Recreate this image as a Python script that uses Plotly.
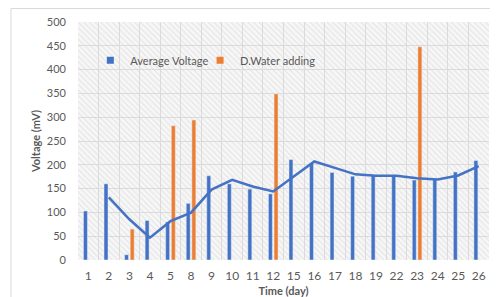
import plotly.graph_objects as go

days = ["1", "2", "3", "4", "5", "8", "9", "10", "11", "12",
        "15", "16", "17", "18", "19", "22", "23", "24", "25", "26"]
avg_voltage = [103, 160, 11, 83, 80, 119, 177, 160, 149, 139,
               211, 203, 184, 176, 178, 176, 168, 170, 185, 209]
water_adding = [None, None, 65, None, 282, 294, None, None, None, 349,
                None, None, None, None, None, None, 448, None, None, None]
y_ticks = [0, 50, 100, 150, 200, 250, 300, 350, 400, 450, 500]
series_names = ["Average Voltage", "D.Water adding"]

# 2-period moving average trendline (as in the original chart)
mov_avg = [None] + [(avg_voltage[i - 1] + avg_voltage[i]) / 2 for i in range(1, len(avg_voltage))]

BLUE = "#4472C4"
ORANGE = "#ED7D31"
GRAY = "#595959"
FONT = "Lato"

fig = go.Figure()

# hatched plot-area background on the base (hidden) axes
fig.add_trace(go.Scatter(
    x=[0, 1, 1, 0, 0], y=[0, 0, 1, 1, 0], xaxis="x", yaxis="y",
    mode="none", fill="toself", fillcolor="rgba(255,255,255,0)",
    fillpattern=dict(shape="\\", fgcolor="#d4d4d4", bgcolor="rgba(0,0,0,0)", size=4, solidity=0.3),
    hoverinfo="skip", showlegend=False))

fig.add_trace(go.Bar(x=days, y=avg_voltage, name=series_names[0], marker_color=BLUE,
                     xaxis="x2", yaxis="y2", showlegend=False, legendgroup="a"))
fig.add_trace(go.Bar(x=days, y=water_adding, name=series_names[1], marker_color=ORANGE,
                     xaxis="x2", yaxis="y2", showlegend=False, legendgroup="b"))
fig.add_trace(go.Scatter(x=days, y=mov_avg, mode="lines", line=dict(color=BLUE, width=2.5),
                         showlegend=False, hoverinfo="skip", xaxis="x2", yaxis="y2"))

# small square legend keys
for nm, col, grp, lg in [(series_names[0], BLUE, "a", "legend"),
                         (series_names[1], ORANGE, "b", "legend2")]:
    fig.add_trace(go.Scatter(x=[None], y=[None], mode="markers", name=nm, legendgroup=grp,
                             legend=lg, marker=dict(symbol="square", size=7, color=col),
                             xaxis="x2", yaxis="y2"))

legend_style = dict(orientation="h", y=0.839, xanchor="left", yanchor="middle",
                    bgcolor="rgba(0,0,0,0)", font=dict(size=11, color=GRAY), itemwidth=30)

fig.update_layout(
    width=490, height=289,
    margin=dict(l=70, r=9, t=14, b=37, autoexpand=False),
    paper_bgcolor="white", plot_bgcolor="#f7f7f7",
    barmode="group", bargap=0.45, bargroupgap=0.3,
    font=dict(family=FONT, color=GRAY, size=11),
    legend=dict(x=0.03, **legend_style),
    legend2=dict(x=0.297, **legend_style),
    xaxis=dict(range=[0, 1], visible=False, fixedrange=True),
    yaxis=dict(range=[0, 1], visible=False, fixedrange=True),
    xaxis2=dict(type="category", overlaying="x", tickson="boundaries", showgrid=True,
                gridcolor="#dcdcdc", gridwidth=1, ticks="", tickangle=0, automargin=False,
                tickfont=dict(size=12, color=GRAY),
                ticklabelstandoff=7, zeroline=False, showline=False,
                title=dict(text="<b>Time (day)</b>", font=dict(size=11, color=GRAY), standoff=8)),
    yaxis2=dict(range=[0, 500], overlaying="y", side="left", tickvals=y_ticks, showgrid=True,
                gridcolor="#dcdcdc", gridwidth=1, ticks="", tickfont=dict(size=11, color=GRAY),
                ticklabelstandoff=11, zeroline=False, showline=False, automargin=False,
                title=dict(text="<b>Voltage (mV)</b>", font=dict(size=11, color=GRAY), standoff=4)),
    shapes=[dict(type="rect", xref="paper", yref="paper", x0=-0.163, x1=1.03, y0=-0.3, y1=1.0567,
                 line=dict(color="#d9d9d9", width=1), fillcolor="rgba(0,0,0,0)", layer="below")],
)

fig.write_html("out.html")
